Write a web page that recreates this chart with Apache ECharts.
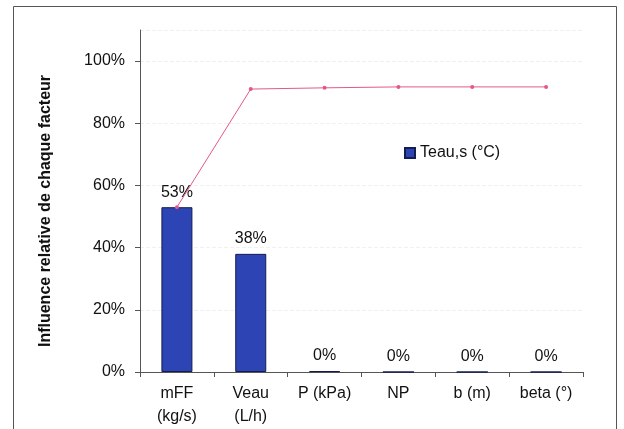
<!DOCTYPE html>
<html>
<head>
<meta charset="utf-8">
<script src="https://cdn.jsdelivr.net/npm/echarts@6/dist/echarts.min.js"></script>
<style>
html,body{margin:0;padding:0;background:#fff;}
#chart{width:624px;height:429px;}
</style>
</head>
<body>
<div id="chart"></div>
<script>
var categories = ['mFF\n(kg/s)', 'Veau\n(L/h)', 'P (kPa)', 'NP', 'b (m)', 'beta (°)'];
var influence = [0.53, 0.38, 0.003, 0, 0, 0];
var cumul = [0.53, 0.91, 0.914, 0.917, 0.917, 0.917];
var yTicks = [0, 0.2, 0.4, 0.6, 0.8, 1.0];

function init(){
	var font = 'Liberation Sans, Arial, sans-serif';
	var option = {
		animation:false,
		textStyle:{fontFamily:font},
		graphic:[{
			type:'rect',
			shape:{x:13.5, y:6.5, width:603, height:440},
			style:{fill:'none', stroke:'#555', lineWidth:1}
		}],
		legend:{
			data:[{name:'Teau,s (°C)', icon:'rect'}],
			left:399,
			top:140,
			itemWidth:10,
			itemHeight:10,
			itemGap:4,
			textStyle:{fontSize:16, color:'#111', fontFamily:font}
		},
		grid:{
			left:140,
			right:41,
			top:30,
			bottom:57,
			containLabel:false,
			outerBoundsMode:'none'
		},
		xAxis:{
			type:'category',
			data:categories,
			axisLine:{lineStyle:{color:'#555'}},
			axisTick:{show:true, length:5, lineStyle:{color:'#555'}},
			axisLabel:{fontSize:16, color:'#111', lineHeight:23, margin:10, fontFamily:font}
		},
		yAxis:{
			type:'value',
			min:0,
			max:1.1,
			interval:0.2,
			name:'Influence relative de chaque facteur',
			nameLocation:'middle',
			nameGap:86,
			nameTextStyle:{fontSize:16, fontWeight:'bold', color:'#111', fontFamily:font, padding:[0,20,0,0]},
			axisLine:{show:true, lineStyle:{color:'#555'}},
			axisTick:{show:true, length:5, lineStyle:{color:'#555'}},
			axisLabel:{
				fontSize:16,
				color:'#111',
				margin:15,
				showMaxLabel:false,
				fontFamily:font,
				formatter:function(v){
					if(yTicks.indexOf(Math.round(v*10)/10)<0) return '';
					return Math.round(v*100)+'%';
				}
			},
			splitLine:{show:true, lineStyle:{color:'#f0f0f0', type:'dashed'}}
		},
		series:[
			{
				name:'Teau,s (°C)',
				type:'bar',
				data:influence,
				barWidth:'42%',
				itemStyle:{color:'#2c44b4', borderColor:'#141c50', borderWidth:1},
				label:{
					show:true,
					position:'top',
					distance:7,
					fontSize:16,
					color:'#111',
					fontFamily:font,
					formatter:function(p){
						return Math.round(p.value*100)+'%';
					}
				},
				z:2
			},
			{
				name:'cumul',
				type:'line',
				data:cumul,
				symbol:'circle',
				symbolSize:4,
				lineStyle:{color:'#e4578a', width:1},
				itemStyle:{color:'#e4578a'},
				z:3
			}
		]
	};
	var myChart = echarts.init(document.getElementById('chart'));
	myChart.setOption(option);
}
init();
</script>
</body>
</html>
